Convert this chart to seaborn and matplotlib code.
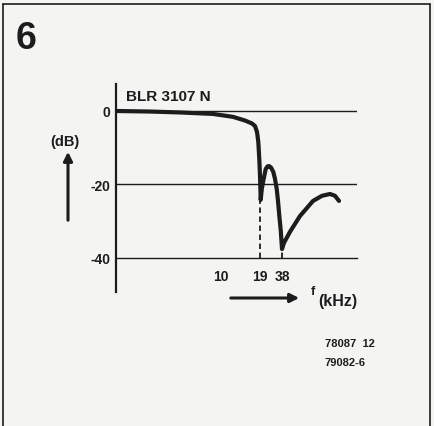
import matplotlib
matplotlib.use("Agg")
import matplotlib.pyplot as plt
from matplotlib.lines import Line2D
import seaborn as sns
import pandas as pd

# curve: position along the (non-linear) frequency axis, level in dB
pos = [0, 34, 64, 97, 117, 129, 136, 139, 141, 142.3, 143.3, 144, 144.7, 145.8,
       147.3, 149.7, 151.5, 153, 155, 157.3, 159, 160.7, 162, 163.3, 164.8, 166,
       168, 174, 184, 197, 206, 214, 219, 223]
level_db = [0, -0.15, -0.4, -0.8, -1.6, -2.6, -3.4, -4.1, -5.7, -8.4, -13.1, -17.7,
            -24.2, -21.2, -19.0, -15.8, -15.1, -15.0, -15.4, -16.6, -18.5, -21.2,
            -24.5, -28.5, -32.7, -37.6, -35.9, -32.9, -28.6, -24.5, -23.1, -22.6,
            -23.1, -24.5]

y_ticks = [0, -20, -40]
y_labels = ["0", "-20", "-40"]
x_ticks = [104.7, 144, 166]
x_labels = ["10", "19", "38"]
# notch markers (position, depth)
notch_pos = [144, 166]
notch_db = [-24.2, -37.6]

df = pd.DataFrame({"pos": pos, "dB": level_db})

sns.set_theme(style="white")
plt.rcParams["font.family"] = ["Liberation Sans", "DejaVu Sans"]

ink = "#1c1c1c"
bg = "#f4f4f2"
W, H = 435, 427


def fx(px):
    return px / W


def fy(py):
    return 1 - py / H


fig = plt.figure(figsize=(4.35, 4.27), dpi=100, facecolor=bg)
ax = fig.add_axes([fx(116), fy(293), fx(357) - fx(116), fy(85) - fy(293)])
ax.set_facecolor(bg)

sns.lineplot(data=df, x="pos", y="dB", ax=ax, color=ink, lw=3.0,
             sort=False, estimator=None)

# dashed drops from the notches to the -40 line
ax.vlines(notch_pos, -40, notch_db, colors=ink, linestyles=(0, (3, 2)), lw=1.3)

ax.set_xlim(0, 241)
ax.set_ylim(-49.3, 7.35)
ax.set_xlabel("")
ax.set_ylabel("")

for yv in y_ticks[:2]:
    ax.axhline(yv, color=ink, lw=1.0, zorder=0)

for s in ["top", "right"]:
    ax.spines[s].set_visible(False)
ax.spines["left"].set_color(ink)
ax.spines["left"].set_linewidth(1.6)
ax.spines["bottom"].set_position(("data", -40))
ax.spines["bottom"].set_color(ink)
ax.spines["bottom"].set_linewidth(1.0)

ax.set_yticks(y_ticks)
ax.set_yticklabels(y_labels, fontsize=10, fontweight="bold", color=ink)
ax.tick_params(axis="y", length=0, pad=4)
ax.set_xticks(x_ticks)
ax.set_xticklabels(x_labels, fontsize=10, fontweight="bold", color=ink)
ax.tick_params(axis="x", direction="inout", length=6, width=1.2, color=ink, pad=5)

fig.text(fx(126), fy(97), "BLR 3107 N", fontsize=11, fontweight="bold",
         color=ink, va="center", ha="left")

# frame
for (x0, y0, x1, y1) in [(3, 5, 430, 5), (3, 5, 3, 427), (430, 5, 430, 427)]:
    fig.add_artist(Line2D([fx(x0), fx(x1)], [fy(y0), fy(y1)], color=ink, lw=1.2))

fig.text(fx(16), fy(39), "6", fontsize=27, fontweight="heavy", color=ink,
         va="center", ha="left")

fig.text(fx(65), fy(142), "(dB)", fontsize=10.5, fontweight="bold", color=ink,
         va="center", ha="center")
ax.annotate("", xy=(fx(68), fy(150)), xytext=(fx(68), fy(224)),
            xycoords="figure fraction", textcoords="figure fraction",
            arrowprops=dict(arrowstyle="-|>", color=ink, lw=2.2, mutation_scale=13))
ax.annotate("", xy=(fx(302), fy(299)), xytext=(fx(228), fy(299)),
            xycoords="figure fraction", textcoords="figure fraction",
            arrowprops=dict(arrowstyle="-|>", color=ink, lw=2.2, mutation_scale=13))
fig.text(fx(313), fy(292), "f", fontsize=9, fontweight="bold", color=ink,
         va="center", ha="center")
fig.text(fx(318), fy(302), "(kHz)", fontsize=11.5, fontweight="bold", color=ink,
         va="center", ha="left")

fig.text(fx(325), fy(344), "78087  12", fontsize=8, fontweight="bold", color=ink,
         va="center", ha="left")
fig.text(fx(325), fy(363), "79082-6", fontsize=8, fontweight="bold", color=ink,
         va="center", ha="left")

fig.savefig("out.png", dpi=100, facecolor=bg)
